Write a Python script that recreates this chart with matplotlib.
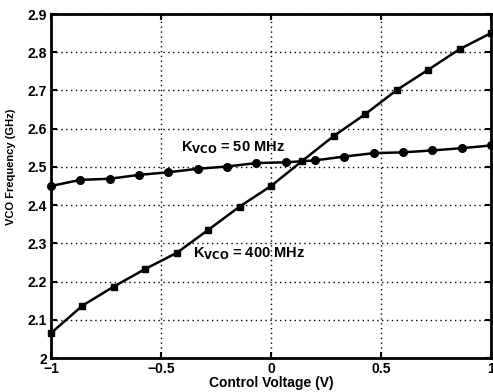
import numpy as np
import matplotlib.pyplot as plt

plt.rcParams['font.family'] = ['Liberation Sans', 'DejaVu Sans']
plt.rcParams['font.weight'] = 'bold'

# K_VCO = 50 MHz curve (circles), 16 points from -1 to 1
v_50 = np.linspace(-1, 1, 16)
f_50 = [2.450, 2.466, 2.469, 2.479, 2.486, 2.495, 2.501, 2.510,
        2.512, 2.517, 2.527, 2.536, 2.538, 2.543, 2.549, 2.556]

# K_VCO = 400 MHz curve (squares), 15 points from -1 to 1
v_400 = np.linspace(-1, 1, 15)
f_400 = [2.065, 2.137, 2.187, 2.233, 2.275, 2.335, 2.396, 2.450,
         2.516, 2.581, 2.638, 2.701, 2.754, 2.808, 2.850]

x_ticks = [-1, -0.5, 0, 0.5, 1]
x_labels = ["\u22121", "\u22120.5", "0", "0.5", "1"]
y_ticks = [2.0, 2.1, 2.2, 2.3, 2.4, 2.5, 2.6, 2.7, 2.8, 2.9]
y_labels = ["2", "2.1", "2.2", "2.3", "2.4", "2.5", "2.6", "2.7", "2.8", "2.9"]

fig = plt.figure(figsize=(4.93, 3.92), dpi=100)
ax = fig.add_axes([51/493, 34/392, 440/493, 344/392])

ax.plot(v_50, f_50, color="black", lw=1.8, marker="o", ms=5.5, clip_on=False, zorder=3)
ax.plot(v_400, f_400, color="black", lw=1.8, marker="s", ms=5, clip_on=False, zorder=3)

ax.set_xlim(-1, 1)
ax.set_ylim(2.0, 2.9)
ax.set_xticks(x_ticks)
ax.set_xticklabels(x_labels)
ax.set_yticks(y_ticks)
ax.set_yticklabels(y_labels)
ax.tick_params(direction="in", length=4, width=1.5, labelsize=10, pad=3,
               top=True, right=True)
for s in ax.spines.values():
    s.set_linewidth(2)

ax.grid(True, color="black", linestyle=(0, (1, 2.5)), linewidth=1)
ax.set_axisbelow(True)

ax.set_xlabel("Control Voltage (V)", fontsize=10, fontweight="bold", labelpad=0)
ax.set_ylabel("VCO Frequency (GHz)", fontsize=8, fontweight="bold")
ax.yaxis.set_label_coords(-0.08, 0.555)

ax.text(-0.41, 2.54, r"K$_{\mathbf{VCO}}$ = 50 MHz", fontsize=10.5, fontweight="bold")
ax.text(-0.355, 2.264, r"K$_{\mathbf{VCO}}$ = 400 MHz", fontsize=10.5, fontweight="bold")

fig.savefig("out.png", dpi=100)
